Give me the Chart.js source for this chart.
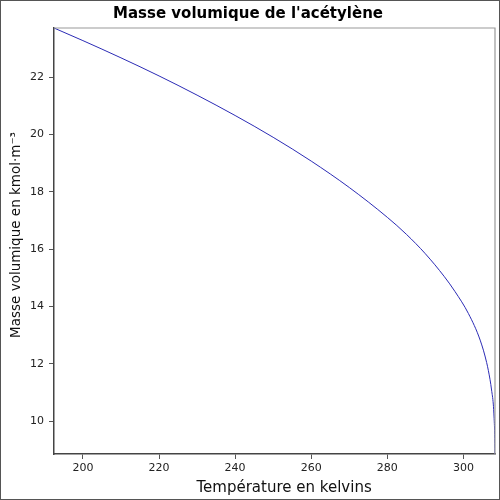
<!DOCTYPE html>
<html>
<head>
<meta charset="utf-8">
<script src="https://cdn.jsdelivr.net/npm/chart.js@4/dist/chart.umd.min.js"></script>
<style>
  html, body { margin: 0; padding: 0; background: #fff; }
  #wrap { width: 500px; height: 500px; box-sizing: border-box; border: 1px solid #555; }
  canvas { display: block; }
</style>
</head>
<body>
<div id="wrap"><canvas id="c" width="498" height="498"></canvas></div>
<script>
// Températures (K) et masse volumique (kmol/m3)
const temperatures = [192.4, 200, 210, 220, 230, 240, 250, 260, 270, 280, 285, 290,
  295, 297.8, 301.3, 304.4, 306.1, 307.0, 307.4, 307.85, 308.05, 308.22, 308.3];
const densites = [23.71, 23.27, 22.67, 22.04, 21.37, 20.66, 19.90, 19.07, 18.15, 17.11, 16.52, 15.84,
  15.04, 14.52, 13.76, 12.83, 12.05, 11.45, 11.09, 10.60, 10.15, 9.55, 8.86];

const xTicks = [200, 220, 240, 260, 280, 300];
const yTicks = [10, 12, 14, 16, 18, 20, 22];

const titreX = 'Température en kelvins';
const titreY = 'Masse volumique en kmol·m⁻³';

const police = "'DejaVu Sans', sans-serif";

// cadre haut/droite en gris clair + titres des axes
const decor = {
  id: 'decor',
  afterDraw(chart) {
    const { ctx, chartArea: a } = chart;
    ctx.save();
    ctx.strokeStyle = '#999';
    ctx.lineWidth = 1.2;
    ctx.beginPath();
    ctx.moveTo(a.left, a.top);
    ctx.lineTo(a.right, a.top);
    ctx.lineTo(a.right, a.bottom);
    ctx.stroke();

    ctx.fillStyle = '#111';
    ctx.font = '15px ' + police;
    ctx.textAlign = 'left';
    ctx.textBaseline = 'alphabetic';
    ctx.fillText(titreX, 195.5, 490.5);

    ctx.font = '13.5px ' + police;
    ctx.translate(19, 234);
    ctx.rotate(-Math.PI / 2);
    ctx.textAlign = 'center';
    ctx.fillText(titreY, 0, 0);
    ctx.restore();
  }
};

new Chart(document.getElementById('c').getContext('2d'), {
  type: 'line',
  data: {
    datasets: [{
      data: temperatures.map((t, i) => ({ x: t, y: densites[i] })),
      borderColor: '#2b2bb5',
      borderWidth: 1,
      pointRadius: 0,
      fill: false,
      cubicInterpolationMode: 'monotone',
    }],
  },
  options: {
    responsive: false,
    animation: false,
    layout: { padding: { left: 0, right: 4, top: 0, bottom: 0 } },
    plugins: {
      legend: { display: false },
      tooltip: { enabled: false },
      title: {
        display: true,
        text: "Masse volumique de l'acétylène",
        color: '#000',
        font: { family: police, size: 15, weight: 'bold', lineHeight: 1.2 },
        padding: { top: 4, bottom: 5 },
      },
    },
    scales: {
      x: {
        type: 'linear',
        min: 192.4,
        max: 308.3,
        afterBuildTicks: s => { s.ticks = xTicks.map(v => ({ value: v })); },
        afterFit: s => { s.height = 45; },
        grid: { drawOnChartArea: false, drawTicks: true, tickLength: 5, color: '#555' },
        border: { color: '#444', width: 1.5 },
        ticks: { color: '#222', font: { family: police, size: 11 }, padding: 3, maxRotation: 0 },
      },
      y: {
        type: 'linear',
        min: 8.86,
        max: 23.71,
        afterBuildTicks: s => { s.ticks = yTicks.map(v => ({ value: v })); },
        afterFit: s => { s.width = 53; },
        grid: { drawOnChartArea: false, drawTicks: true, tickLength: 5, color: '#555' },
        border: { color: '#444', width: 1.5 },
        ticks: { color: '#222', font: { family: police, size: 11 }, padding: 5 },
      },
    },
  },
  plugins: [decor],
});
</script>
</body>
</html>
